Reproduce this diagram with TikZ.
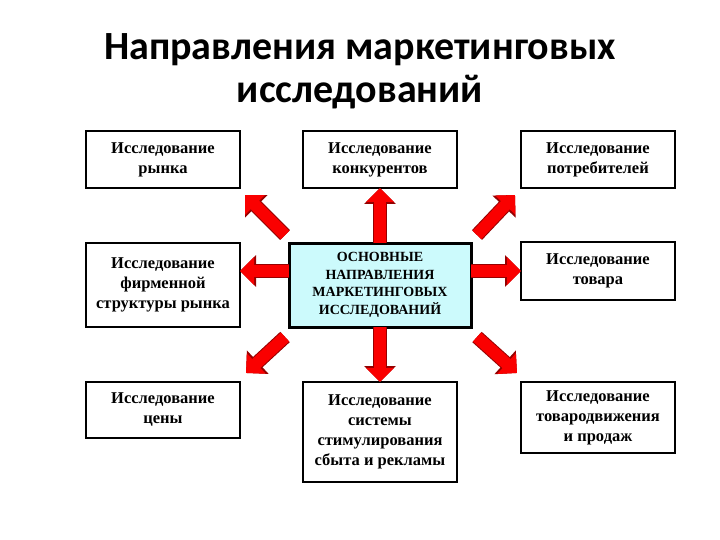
\documentclass[tikz,border=0pt]{standalone}
\usepackage{fontspec}
\setmainfont{Liberation Serif}
\newfontfamily\titlefont{Carlito}
\usetikzlibrary{arrows.meta}
\definecolor{boxcyan}{RGB}{204,250,252}
\definecolor{arrowred}{RGB}{250,0,0}
\definecolor{arrowedge}{RGB}{150,0,0}
\begin{document}
\begin{tikzpicture}[x=1pt,y=-1pt,
  box/.style={draw=black, line width=2pt, fill=white, minimum width=154pt,
    inner sep=0pt, outer sep=0pt, align=center, anchor=north west,
    font=\bfseries\fontsize{16.5}{20}\selectfont},
  centerbox/.style={box, line width=3pt, fill=boxcyan, minimum width=182pt,
    font=\bfseries\fontsize{14}{17.5}\selectfont},
  titletext/.style={anchor=base, font=\titlefont\bfseries\fontsize{40}{43}\selectfont},
  bigarrow/.style={line width=12pt, draw=arrowred,
    -{Triangle[length=14pt,width=27pt]},
    preaction={draw=arrowedge, line width=14pt, -{Triangle[length=16pt,width=31pt]}}}
]
\useasboundingbox (0,0) rectangle (720,540);

\node[titletext] (t1) at (360,60) {Направления маркетинговых};
\node[titletext] (t2) at (360,103) {исследований};

\node[box, minimum height=57pt] (rynok) at (86,131) {Исследование\\рынка};
\node[box, minimum height=57pt] (konk) at (303,131) {Исследование\\конкурентов};
\node[box, minimum height=57pt] (potr) at (521,131) {Исследование\\потребителей};

\node[box, minimum height=84pt] (firm) at (86,243) {Исследование\\фирменной\\структуры рынка};
\node[centerbox, minimum height=84pt] (c) at (289,243) {ОСНОВНЫЕ\\НАПРАВЛЕНИЯ\\МАРКЕТИНГОВЫХ\\ИССЛЕДОВАНИЙ};
\node[box, minimum height=58pt] (tovar) at (521,242) {Исследование\\товара};

\node[box, minimum height=56pt] (cena) at (86,382) {Исследование\\цены};
\node[box, minimum height=100pt] (stim) at (303,382) {Исследование\\системы\\стимулирования\\сбыта и рекламы};
\node[box, minimum height=71pt] (prod) at (521,382) {Исследование\\товародвижения\\и продаж};

\draw[bigarrow] (c.north) -- (konk.south);
\draw[bigarrow] (c.south) -- (stim.north);
\draw[bigarrow] (c.west |- tovar.west) -- (firm.east |- tovar.west);
\draw[bigarrow] (c.east |- tovar.west) -- (tovar.west);
\draw[bigarrow] ([shift={(-4,-8)}]c.north west) -- ([shift={(5,7)}]rynok.south east);
\draw[bigarrow] ([shift={(6,-8)}]c.north east) -- ([shift={(-6,7)}]potr.south west);
\draw[bigarrow] ([shift={(-4,10)}]c.south west) -- ([shift={(6,-9)}]cena.north east);
\draw[bigarrow] ([shift={(6,10)}]c.south east) -- ([shift={(-4,-9)}]prod.north west);
\end{tikzpicture}
\end{document}
